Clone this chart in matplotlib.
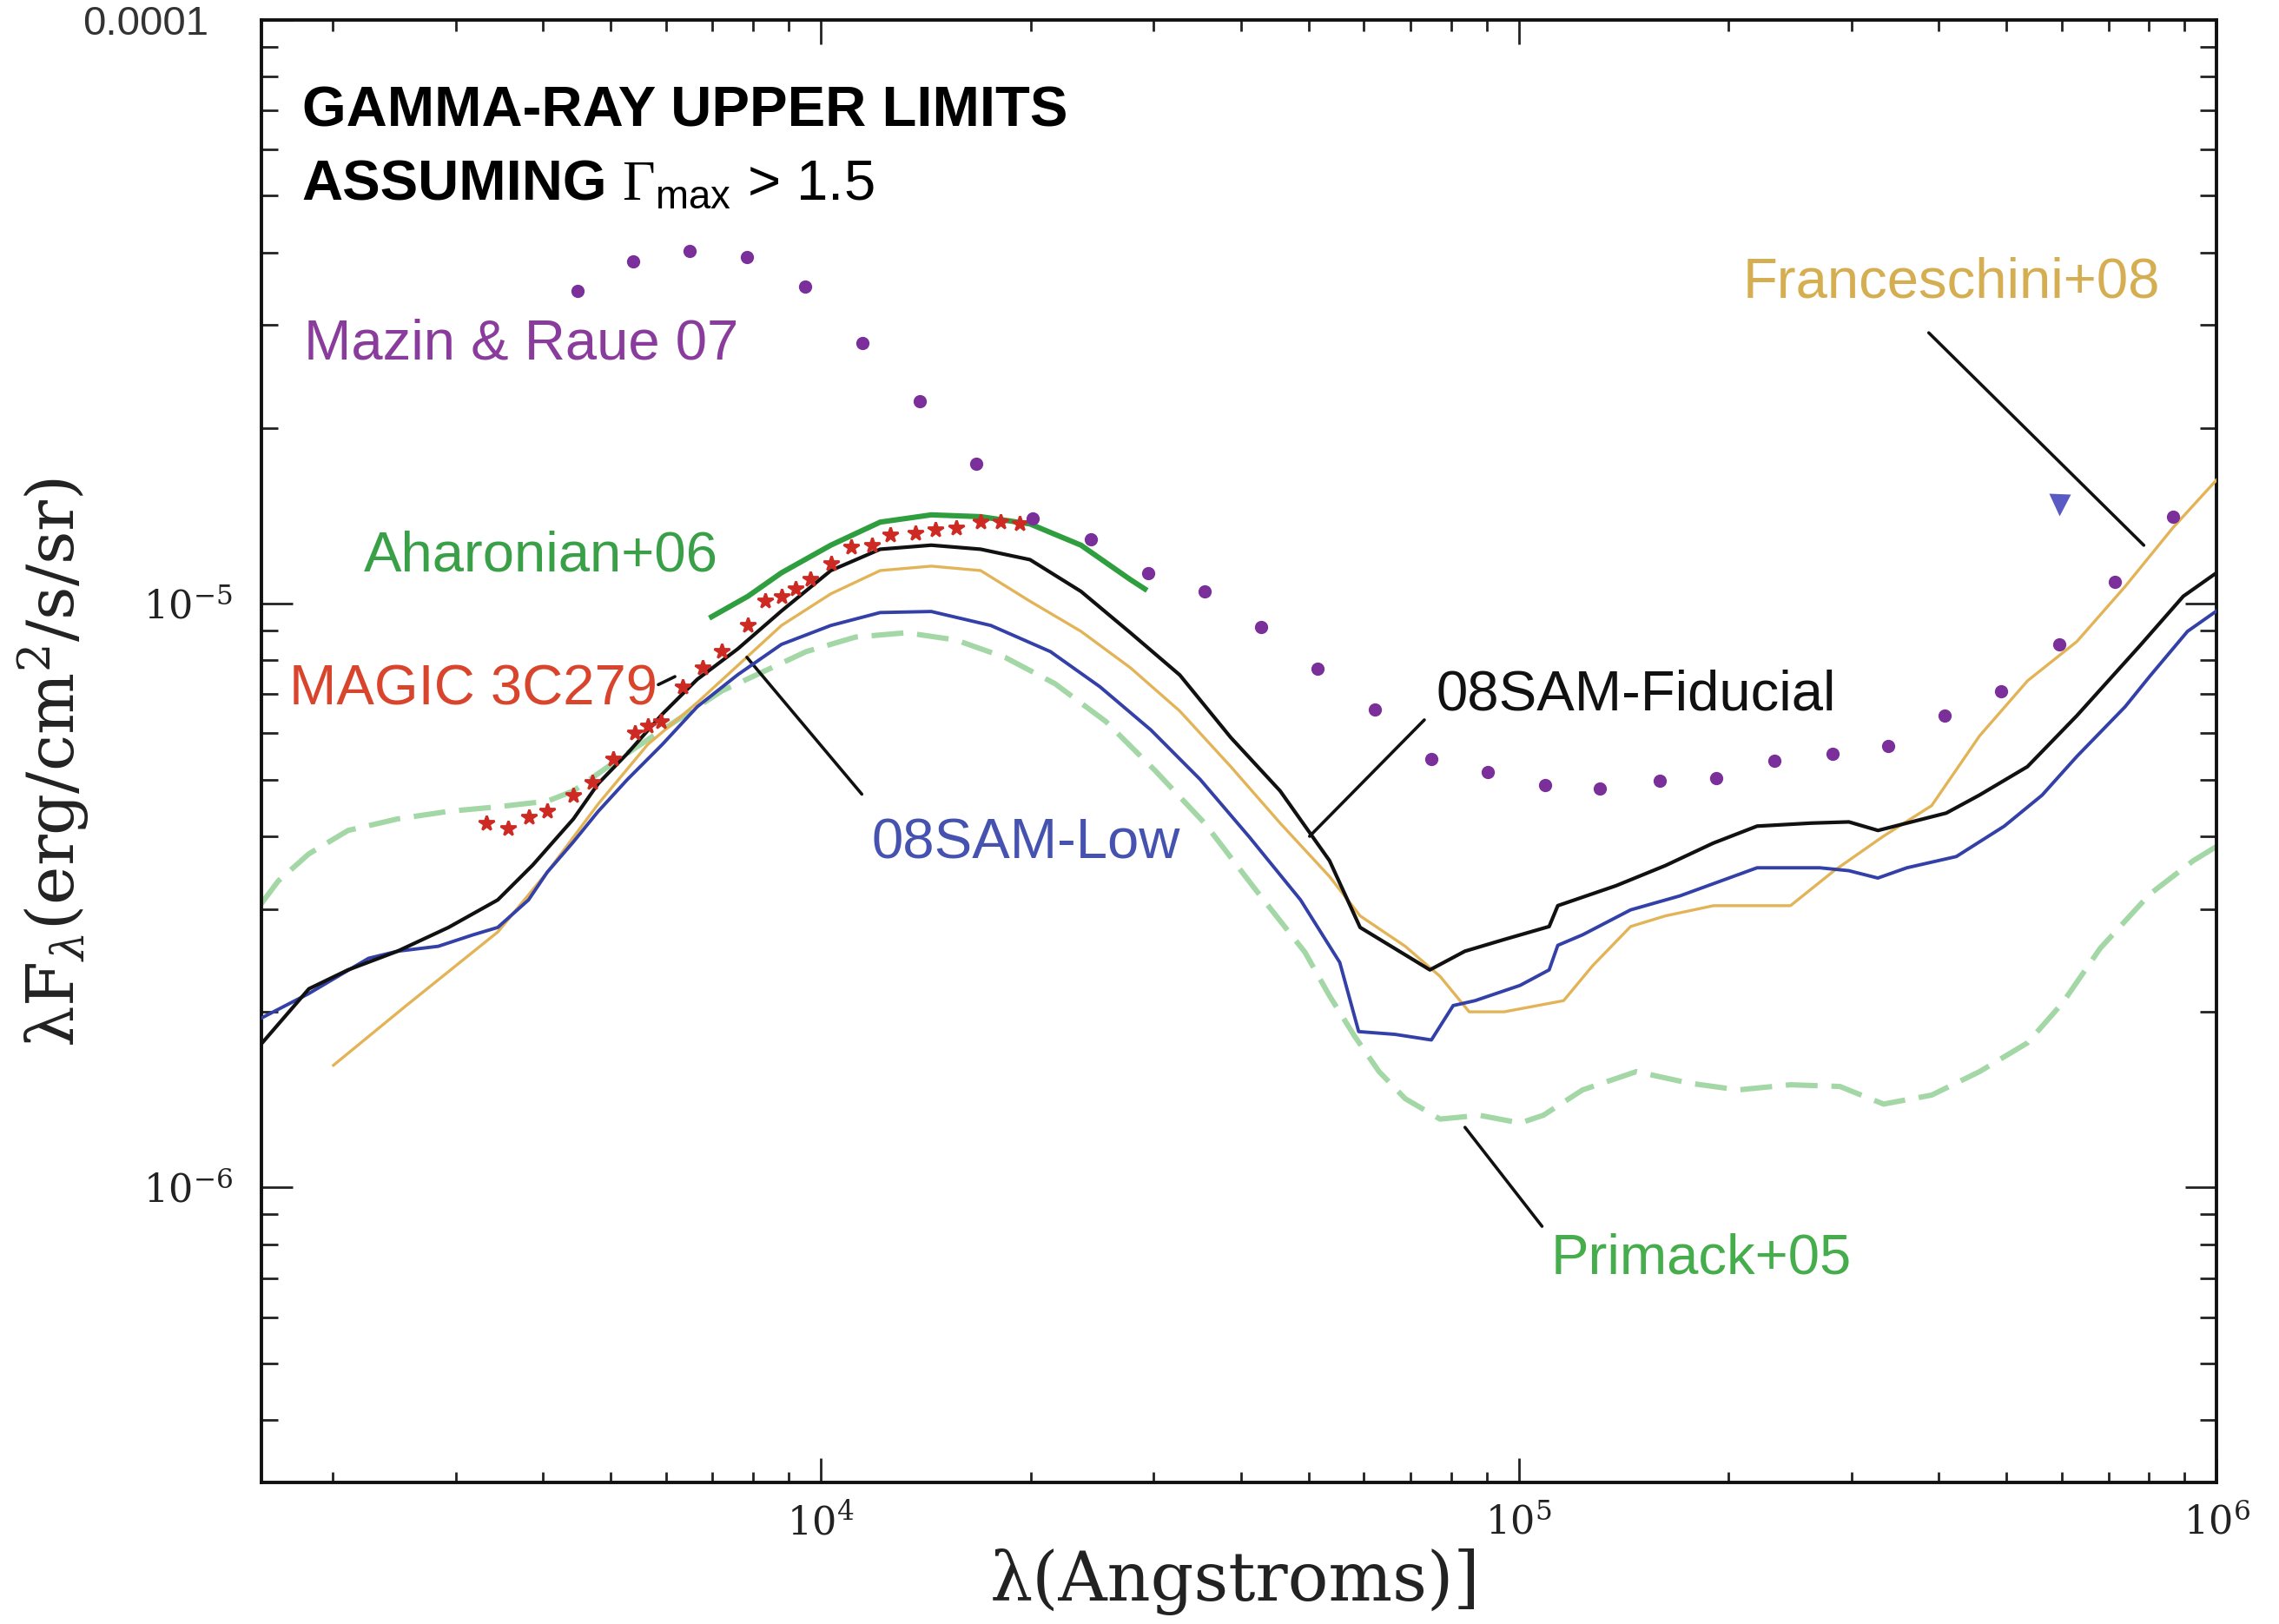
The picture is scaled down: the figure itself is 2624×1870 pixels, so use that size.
import matplotlib
matplotlib.use("Agg")
import matplotlib.pyplot as plt
from matplotlib.ticker import LogLocator, NullFormatter

# ---------------- data ----------------
# 08SAM-Fiducial (black)
fid_lam = [1578, 1848, 2103, 2475, 2929, 3446, 3869, 4137, 4423, 4800, 5284, 5929, 6653, 7607, 8786,
           10340, 12170, 14400, 16950, 19950, 23600, 27780, 32700, 38690, 45530, 53590, 59280, 74630,
           83750, 95320, 110600, 113800, 138000, 162200, 190000, 219600, 262400, 297300, 327300,
           359900, 409900, 457100, 535800, 630600, 776200, 896000, 1000000]
fid_F = [1.76e-6, 2.19e-6, 2.36e-6, 2.54e-6, 2.79e-6, 3.11e-6, 3.57e-6, 3.91e-6, 4.28e-6, 4.92e-6,
         5.54e-6, 6.47e-6, 7.42e-6, 8.37e-6, 9.72e-6, 1.14e-5, 1.24e-5, 1.26e-5, 1.24e-5, 1.19e-5,
         1.05e-5, 8.92e-6, 7.55e-6, 5.90e-6, 4.78e-6, 3.63e-6, 2.79e-6, 2.36e-6, 2.54e-6, 2.66e-6,
         2.80e-6, 3.04e-6, 3.29e-6, 3.56e-6, 3.89e-6, 4.16e-6, 4.21e-6, 4.23e-6, 4.09e-6, 4.21e-6,
         4.38e-6, 4.70e-6, 5.26e-6, 6.43e-6, 8.47e-6, 1.03e-5, 1.13e-5]

# 08SAM-Low (blue)
low_lam = [1578, 1848, 2033, 2250, 2475, 2832, 3177, 3446, 3814, 4058, 4423, 4800, 5284, 5929, 6653,
           7607, 8786, 10340, 12170, 14400, 17530, 21340, 25120, 29720, 34980, 41170, 48700, 55430,
           59000, 66500, 74990, 80580, 86600, 100500, 110600, 113800, 123500, 144700, 170300, 219600,
           270000, 297200, 327100, 360000, 423800, 496400, 562300, 631000, 739400, 802000, 908700,
           1000000]
low_F = [1.95e-6, 2.15e-6, 2.30e-6, 2.47e-6, 2.54e-6, 2.59e-6, 2.71e-6, 2.79e-6, 3.11e-6, 3.47e-6,
         3.91e-6, 4.41e-6, 5.00e-6, 5.74e-6, 6.66e-6, 7.56e-6, 8.52e-6, 9.18e-6, 9.66e-6, 9.70e-6,
         9.18e-6, 8.28e-6, 7.21e-6, 6.08e-6, 5.00e-6, 3.98e-6, 3.11e-6, 2.43e-6, 1.85e-6, 1.83e-6,
         1.79e-6, 2.05e-6, 2.09e-6, 2.22e-6, 2.36e-6, 2.60e-6, 2.71e-6, 2.99e-6, 3.16e-6, 3.53e-6,
         3.53e-6, 3.49e-6, 3.39e-6, 3.53e-6, 3.69e-6, 4.16e-6, 4.70e-6, 5.48e-6, 6.66e-6, 7.51e-6,
         8.97e-6, 9.72e-6]

# Franceschini+08 (gold)
fr_lam = [2004, 2548, 3446, 4058, 4800, 5651, 6653, 8786, 10340, 12170, 14400, 16950, 19950, 23600,
          27780, 32700, 38690, 45530, 53590, 59280, 68790, 77180, 84950, 95320, 116000, 127700,
          144700, 162300, 190200, 245200, 283200, 333400, 390600, 457600, 536000, 631000, 739400,
          866000, 1000000]
fr_F = [1.62e-6, 2.05e-6, 2.74e-6, 3.47e-6, 4.54e-6, 5.74e-6, 6.77e-6, 9.18e-6, 1.04e-5, 1.14e-5,
        1.16e-5, 1.14e-5, 1.01e-5, 8.97e-6, 7.77e-6, 6.55e-6, 5.26e-6, 4.21e-6, 3.41e-6, 2.92e-6,
        2.59e-6, 2.30e-6, 2.00e-6, 2.00e-6, 2.09e-6, 2.40e-6, 2.80e-6, 2.92e-6, 3.04e-6, 3.04e-6,
        3.49e-6, 4.00e-6, 4.51e-6, 5.94e-6, 7.38e-6, 8.62e-6, 1.07e-5, 1.35e-5, 1.63e-5]

# Primack+05 (light green dashed)
pr_lam = [1578, 1670, 1848, 2103, 2475, 2929, 3446, 4058, 4423, 5207, 5929, 7217, 8786, 9532, 11220,
          13270, 15620, 18390, 21650, 25600, 30140, 35480, 41970, 49410, 53590, 58150, 63100, 68790,
          77180, 87850, 100500, 108500, 123500, 147500, 175300, 206400, 245200, 288600, 333400,
          390600, 457600, 536000, 601400, 681300, 802000, 926100, 1000000]
pr_F = [3.06e-6, 3.35e-6, 3.73e-6, 4.09e-6, 4.28e-6, 4.41e-6, 4.49e-6, 4.59e-6, 4.78e-6, 5.48e-6,
        6.08e-6, 7.09e-6, 7.91e-6, 8.28e-6, 8.77e-6, 8.92e-6, 8.67e-6, 8.09e-6, 7.30e-6, 6.29e-6,
        5.18e-6, 4.21e-6, 3.24e-6, 2.53e-6, 2.13e-6, 1.82e-6, 1.58e-6, 1.42e-6, 1.31e-6, 1.33e-6,
        1.29e-6, 1.33e-6, 1.47e-6, 1.58e-6, 1.51e-6, 1.47e-6, 1.50e-6, 1.49e-6, 1.39e-6, 1.44e-6,
        1.58e-6, 1.77e-6, 2.07e-6, 2.57e-6, 3.18e-6, 3.63e-6, 3.84e-6]

# Aharonian+06 (green solid)
ah_lam = [6978, 7866, 8786, 10340, 12170, 14400, 16950, 19950, 23600, 27780, 29140]
ah_F = [9.50e-6, 1.03e-5, 1.13e-5, 1.26e-5, 1.38e-5, 1.42e-5, 1.41e-5, 1.37e-5, 1.26e-5, 1.10e-5,
        1.06e-5]

# MAGIC 3C279 (red stars)
mg_lam = [3318, 3565, 3814, 4058, 4423, 4710, 5036, 5412, 5651, 5902, 6339, 6780, 7217, 7866, 8333,
          8786, 9217, 9670, 10340, 11060, 11830, 12590, 13660, 14610, 15620, 16950, 18120, 19290]
mg_F = [4.21e-6, 4.12e-6, 4.31e-6, 4.41e-6, 4.70e-6, 4.94e-6, 5.42e-6, 6.01e-6, 6.18e-6, 6.29e-6,
        7.21e-6, 7.77e-6, 8.28e-6, 9.18e-6, 1.01e-5, 1.03e-5, 1.06e-5, 1.10e-5, 1.17e-5, 1.25e-5,
        1.26e-5, 1.31e-5, 1.32e-5, 1.34e-5, 1.35e-5, 1.38e-5, 1.38e-5, 1.37e-5]

# Mazin & Raue 07 (purple dots)
mr_lam = [4488, 5385, 6494, 7830, 9486, 11490, 13860, 16710, 20150, 24410, 29430, 35480, 42790,
          51580, 62200, 74990, 90450, 109000, 130800, 159300, 192000, 232700, 281800, 338200,
          407700, 491700, 595700, 715000, 866000]
mr_F = [3.43e-5, 3.86e-5, 4.02e-5, 3.93e-5, 3.49e-5, 2.80e-5, 2.22e-5, 1.74e-5, 1.40e-5, 1.29e-5,
        1.13e-5, 1.05e-5, 9.13e-6, 7.73e-6, 6.58e-6, 5.42e-6, 5.15e-6, 4.89e-6, 4.83e-6, 4.97e-6,
        5.03e-6, 5.39e-6, 5.54e-6, 5.71e-6, 6.43e-6, 7.09e-6, 8.52e-6, 1.09e-5, 1.41e-5]

# single upper limit triangle
tri_lam = [595700]
tri_F = [1.48e-5]

ytick_vals = [1e-6, 1e-5, 1e-4]
ytick_text = ["$10^{-6}$", "$10^{-5}$", "0.0001"]
xtick_vals = [1e4, 1e5, 1e6]
xtick_text = ["$10^{4}$", "$10^{5}$", "$10^{6}$"]

# ---------------- style ----------------
plt.rcParams["font.family"] = ["Liberation Sans", "DejaVu Sans"]
plt.rcParams["mathtext.fontset"] = "custom"
plt.rcParams["mathtext.rm"] = "Liberation Sans"
plt.rcParams["mathtext.bf"] = "Liberation Sans:bold"
plt.rcParams["mathtext.it"] = "Liberation Sans:italic"
plt.rcParams["mathtext.sf"] = "Liberation Serif"

C_BLACK = "#111111"
C_BLUE = "#3340a8"
C_GOLD = "#e3b457"
C_LGREEN = "#a3d7a6"
C_GREEN = "#2f9e3f"
C_RED = "#cc2a22"
C_PURPLE = "#7b2f9b"
C_TRI = "#5a5ac4"

fig = plt.figure(figsize=(13.12, 9.35), dpi=200)
ax = fig.add_axes([0.1147, 0.0872, 0.8579, 0.9005])

ax.plot(pr_lam, pr_F, color=C_LGREEN, lw=2.2, dashes=(6, 2.6), zorder=2)
ax.plot(fr_lam, fr_F, color=C_GOLD, lw=1.2, zorder=3)
ax.plot(low_lam, low_F, color=C_BLUE, lw=1.4, zorder=4)
ax.plot(fid_lam, fid_F, color=C_BLACK, lw=1.5, zorder=5)
ax.plot(ah_lam, ah_F, color=C_GREEN, lw=2.2, zorder=6)
ax.plot(mg_lam, mg_F, ls="none", marker="*", ms=6.5, color=C_RED, mec=C_RED, zorder=7)
ax.plot(mr_lam, mr_F, ls="none", marker="o", ms=5.5, color=C_PURPLE, mec="none", zorder=7)
ax.plot(tri_lam, tri_F, ls="none", marker="v", ms=9, color=C_TRI, mec="none", zorder=7)

ax.set_xscale("log")
ax.set_yscale("log")
ax.set_xlim(1580, 1e6)
ax.set_ylim(10 ** -6.505, 1e-4)

for s in ax.spines.values():
    s.set_linewidth(1.4)
    s.set_color("#111111")

ax.xaxis.set_minor_locator(LogLocator(base=10, subs=range(2, 10), numticks=30))
ax.yaxis.set_minor_locator(LogLocator(base=10, subs=range(2, 10), numticks=30))
ax.xaxis.set_minor_formatter(NullFormatter())
ax.yaxis.set_minor_formatter(NullFormatter())
ax.set_xticks(xtick_vals, labels=xtick_text)
ax.set_yticks(ytick_vals, labels=ytick_text)

ax.tick_params(which="both", direction="in", top=True, right=True, color="#222222")
ax.tick_params(axis="y", which="major", length=13, width=1.0, pad=12)
ax.tick_params(axis="y", which="minor", length=7, width=1.0)
ax.tick_params(axis="x", which="major", length=10, width=1.0, pad=9)
ax.tick_params(axis="x", which="minor", length=4.5, width=1.0)

for lbl in ax.get_xticklabels():
    lbl.set_math_fontfamily("dejavuserif")
    lbl.set_fontsize(16)
    lbl.set_color("#222222")
for lbl in ax.get_yticklabels():
    if lbl.get_text() == "0.0001":
        lbl.set_fontsize(17)
        lbl.set_color("#333333")
    else:
        lbl.set_math_fontfamily("dejavuserif")
        lbl.set_fontsize(16)
        lbl.set_color("#222222")
ax.yaxis.get_major_ticks()[2].set_pad(22)

ax.set_xlabel("λ(Angstroms)]", family="DejaVu Serif", fontsize=28, color="#222222")
ax.xaxis.set_label_coords(0.498, -0.045)
ax.set_ylabel("λF$_λ$(erg/cm$^2$/s/sr)", family="DejaVu Serif", fontsize=27,
              color="#222222", math_fontfamily="dejavuserif")
ax.yaxis.set_label_coords(-0.087, 0.4925)

# ---------------- annotation text ----------------
FS = 23.5
ax.text(0.0208, 0.9274, "GAMMA-RAY UPPER LIMITS", transform=ax.transAxes, fontsize=FS,
        fontweight="bold", va="baseline", ha="left", color="black")
ax.text(0.0208, 0.877, "ASSUMING", transform=ax.transAxes, fontsize=FS,
        fontweight="bold", va="baseline", ha="left", color="black")
ax.text(0.1844, 0.877, r"$\mathsf{\Gamma}_{\rm max}$ > 1.5", transform=ax.transAxes,
        fontsize=FS, va="baseline", ha="left", color="black")
ax.text(0.0216, 0.7682, "Mazin & Raue 07", transform=ax.transAxes, fontsize=FS,
        va="baseline", color="#8a3c9c")
ax.text(0.0524, 0.6234, "Aharonian+06", transform=ax.transAxes, fontsize=FS,
        va="baseline", color="#3aa048")
ax.text(0.0141, 0.5318, "MAGIC 3C279", transform=ax.transAxes, fontsize=FS,
        va="baseline", color="#d8452c")
ax.text(0.3119, 0.4269, "08SAM-Low", transform=ax.transAxes, fontsize=FS,
        va="baseline", color="#4652b0")
ax.text(0.6007, 0.5284, "08SAM-Fiducial", transform=ax.transAxes, fontsize=FS,
        va="baseline", color="#111111")
ax.text(0.7576, 0.81, "Franceschini+08", transform=ax.transAxes, fontsize=FS,
        va="baseline", color="#d6ae52")
ax.text(0.6597, 0.1428, "Primack+05", transform=ax.transAxes, fontsize=FS,
        va="baseline", color="#46ad4c")

# leader lines
leaders = [((0.8528, 0.7861), (0.9628, 0.6408)),
           ((0.5948, 0.5214), (0.5361, 0.4418)),
           ((0.2483, 0.5642), (0.3071, 0.4706)),
           ((0.6156, 0.2428), (0.6550, 0.1751)),
           ((0.2030, 0.5455), (0.2115, 0.5510))]
for p0, p1 in leaders:
    ax.annotate("", xy=p1, xytext=p0, xycoords="axes fraction", textcoords="axes fraction",
                arrowprops=dict(arrowstyle="-", color="#111111", lw=1.3,
                                shrinkA=0, shrinkB=0))

fig.savefig("out.png", dpi=200, facecolor="white")
